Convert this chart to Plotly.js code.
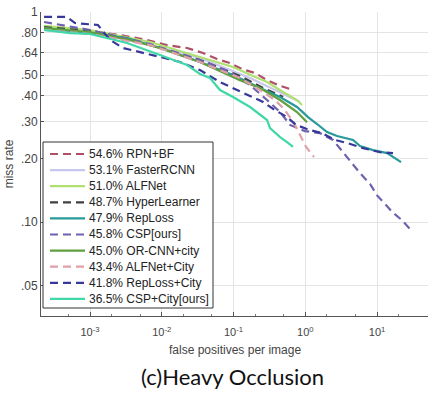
<!DOCTYPE html>
<html><head><meta charset="utf-8">
<script src="https://cdn.plot.ly/plotly-3.0.1.min.js"></script>
<style>html,body{margin:0;padding:0;background:#fff}#chart{width:436px;height:396px}</style>
</head><body><div id="chart"></div>
<script>
const names = ['54.6% RPN+BF','53.1% FasterRCNN','51.0% ALFNet','48.7% HyperLearner','47.9% RepLoss','45.8% CSP[ours]','45.0% OR-CNN+city','43.4% ALFNet+City','41.8% RepLoss+City','36.5% CSP+City[ours]'];
const colors = ['#b05068','#c8c8ee','#b0e070','#404040','#289a9a','#7060b0','#60a040','#e0a0a8','#38389a','#40d8a8'];
const dashes = ['dash','solid','solid','dash','solid','dash','solid','dash','dash','solid'];

const rpnbf_x = [0.000229,0.000526,0.001,0.00262,0.00623,0.0118,0.0225,0.0376,0.0589,0.0894,0.131,0.200,0.293,0.417,0.613];
const rpnbf_y = [0.839,0.830,0.812,0.777,0.736,0.696,0.674,0.638,0.597,0.571,0.535,0.512,0.474,0.449,0.430];
const frcnn_x = [0.000229,0.001,0.00686,0.0341,0.170,0.445,0.845];
const frcnn_y = [0.821,0.803,0.696,0.604,0.485,0.416,0.373];
const alf_x = [0.000229,0.001,0.00686,0.0341,0.0984,0.200,0.293,0.490,0.767,0.901];
const alf_y = [0.858,0.821,0.720,0.611,0.547,0.490,0.464,0.416,0.381,0.361];
const hyper_x = [0.000229,0.001,0.00686,0.0341,0.123,0.258,0.490];
const hyper_y = [0.848,0.812,0.696,0.591,0.496,0.435,0.394];
const rep_x = [0.000229,0.001,0.00328,0.00945,0.0341,0.0984,0.234,0.445,0.767,1.092,1.458,2.01,2.771,4.629,5.794,8.80,13.79,16.71,21.61];
const rep_y = [0.839,0.794,0.752,0.674,0.578,0.501,0.435,0.394,0.353,0.316,0.293,0.268,0.257,0.246,0.230,0.220,0.213,0.204,0.193];
const csp_x = [0.000229,0.001,0.00686,0.0341,0.0894,0.170,0.293,0.445,0.613,0.992,1.605,2.437,3.358,4.483,5.794,7.99,10.0,12.93,16.19,22.31,28.84];
const csp_y = [0.896,0.821,0.704,0.591,0.518,0.449,0.381,0.334,0.290,0.271,0.265,0.246,0.215,0.191,0.171,0.152,0.134,0.122,0.112,0.102,0.0926];
const orcnn_x = [0.000229,0.001,0.00361,0.00945,0.0341,0.123,0.234,0.445,0.767,1.058];
const orcnn_y = [0.839,0.803,0.736,0.674,0.578,0.474,0.435,0.381,0.334,0.299];
const alfc_x = [0.000229,0.001,0.00686,0.0341,0.123,0.234,0.379,0.522,0.720,0.845,1.024,1.324];
const alfc_y = [0.821,0.786,0.696,0.578,0.485,0.425,0.381,0.341,0.290,0.260,0.228,0.204];
const repc_x = [0.000229,0.000478,0.000618,0.00129,0.00190,0.00288,0.00945,0.0180,0.0341,0.0648,0.1119,0.170,0.258,0.379,0.557,0.743,1.165,1.712,2.597,3.818,6.38,11.01,16.71];
const repc_y = [0.947,0.947,0.886,0.867,0.736,0.674,0.611,0.578,0.529,0.464,0.425,0.398,0.373,0.341,0.316,0.290,0.274,0.265,0.246,0.238,0.225,0.215,0.213];
const cspc_x = [0.000229,0.000526,0.001,0.00328,0.00945,0.0225,0.0341,0.0470,0.0648,0.0984,0.170,0.293,0.323,0.445,0.557,0.675];
const cspc_y = [0.821,0.794,0.786,0.712,0.624,0.559,0.507,0.485,0.425,0.394,0.353,0.306,0.280,0.254,0.240,0.228];

const xs = [rpnbf_x,frcnn_x,alf_x,hyper_x,rep_x,csp_x,orcnn_x,alfc_x,repc_x,cspc_x];
const ys = [rpnbf_y,frcnn_y,alf_y,hyper_y,rep_y,csp_y,orcnn_y,alfc_y,repc_y,cspc_y];

const xTickVals = [0.001,0.01,0.1,1,10];
const xTickText = ['10<sup>-3</sup>','10<sup>-2</sup>','10<sup>-1</sup>','10<sup>0</sup>','10<sup>1</sup>'];
const yTickVals = [0.05,0.1,0.2,0.3,0.4,0.5,0.64,0.8,1];
const yTickText = ['.05','.10','.20','.30','.40','.50','.64','.80','1'];

const dashPat = d => d==='dash' ? '8px,5px' : 'solid';
const traces = names.map((n,i)=>({
  x: xs[i], y: ys[i], name: n, type:'scatter', mode:'lines', showlegend:false,
  line:{color:colors[i], width:2.2, dash: dashPat(dashes[i])}
}));

// plot area in pixels (for legend placement in paper coords)
const W=436,H=396,L=41,R=8,T=12,B=80;
const pw=W-L-R, ph=H-T-B;
const px = p => (p-L)/pw, py = p => (H-B-p)/ph;

const shapes = [{type:'rect', xref:'paper', yref:'paper', x0:px(43), x1:px(213), y0:py(308), y1:py(142),
  line:{color:'#333', width:1}, fillcolor:'#fff', layer:'above'}];
const annotations = [];
names.forEach((n,i)=>{
  const yy = py(154 + 16.1*i);
  shapes.push({type:'line', xref:'paper', yref:'paper', x0:px(50), x1:px(85), y0:yy, y1:yy,
    line:{color:colors[i], width:2.2, dash:dashPat(dashes[i])}, layer:'above'});
  annotations.push({text:n, xref:'paper', yref:'paper', x:px(87), y:yy, xanchor:'left', yanchor:'middle',
    showarrow:false, font:{size:12, color:'#222', family:'Liberation Sans, Arial, sans-serif'}});
});
annotations.push({text:'false positives per image', xref:'paper', yref:'paper', x:px(235), y:py(350),
  xanchor:'center', yanchor:'middle', showarrow:false, font:{size:12, color:'#444'}});
annotations.push({text:'(c)Heavy Occlusion', xref:'paper', yref:'paper', x:px(232), y:py(376),
  xanchor:'center', yanchor:'middle', showarrow:false, font:{family:'Lato, Open Sans, sans-serif', size:22, color:'#111'}});

const layout = {
  width:W, height:H,
  margin:{l:L, r:R, t:T, b:B},
  paper_bgcolor:'#fff', plot_bgcolor:'#fff',
  font:{family:'Liberation Sans, Arial, sans-serif', color:'#444'},
  showlegend:false,
  xaxis:{type:'log', range:[-3.683,1.71], tickvals:xTickVals, ticktext:xTickText, automargin:false,
    showgrid:true, gridcolor:'#e4e4e4', zeroline:false, showline:true, linecolor:'#555', linewidth:1,
    ticks:'inside', ticklen:4, tickcolor:'#555', tickfont:{size:11, color:'#444'}, ticklabelstandoff:6,
    minor:{ticks:'inside', ticklen:2, tickcolor:'#777', showgrid:false}},
  yaxis:{type:'log', range:[-1.447,0], tickvals:yTickVals, ticktext:yTickText, automargin:false,
    showgrid:true, gridcolor:'#e4e4e4', zeroline:false, showline:true, linecolor:'#555', linewidth:1,
    ticks:'inside', ticklen:3, tickcolor:'#555', tickfont:{size:12, color:'#444'},
    title:{text:'miss rate', font:{size:12, color:'#444'}, standoff:4}},
  shapes: shapes,
  annotations: annotations
};
Plotly.newPlot('chart', traces, layout, {displayModeBar:false, staticPlot:true});
</script></body></html>
